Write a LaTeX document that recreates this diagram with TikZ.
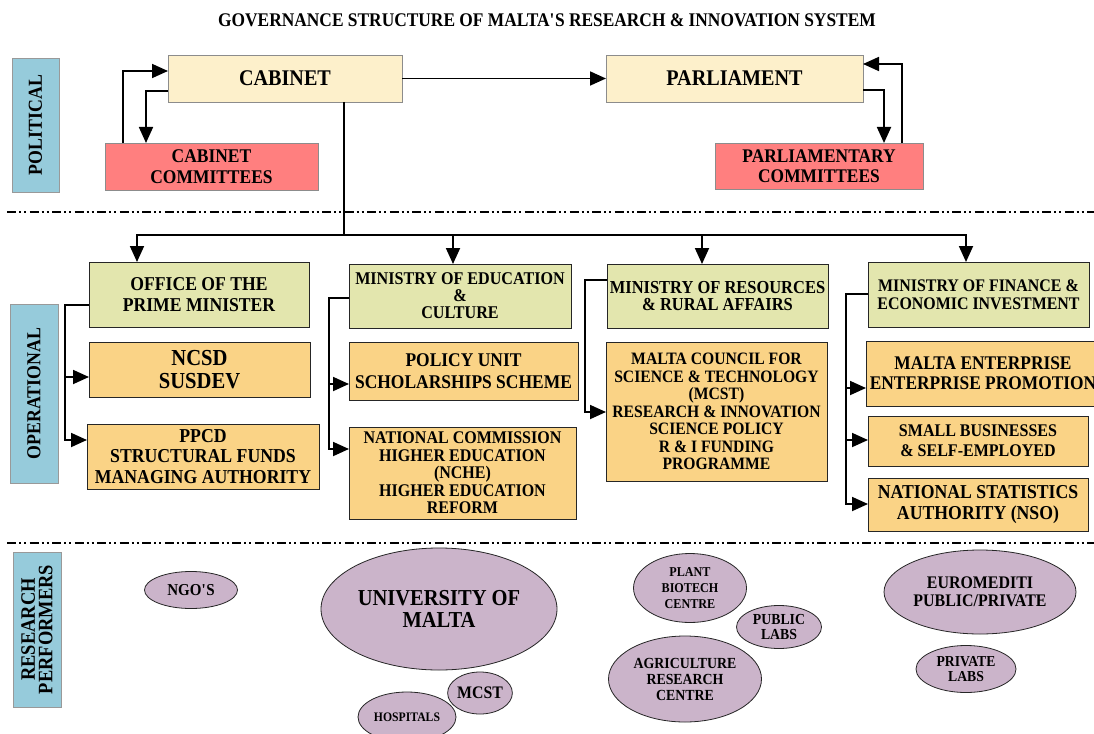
\documentclass[tikz,border=0pt]{standalone}
\usepackage{fontspec}
\setmainfont{Liberation Serif}[FakeStretch=0.9]
\usetikzlibrary{shapes.geometric,arrows.meta}
\newcommand\fz[2]{\fontsize{#1}{#2}\selectfont\bfseries}
\definecolor{bluec}{HTML}{96CBDB}
\definecolor{creamc}{HTML}{FDF0CB}
\definecolor{salmonc}{HTML}{FF7F7F}
\definecolor{greenc}{HTML}{E3E6AE}
\definecolor{orangec}{HTML}{FAD386}
\definecolor{purplec}{HTML}{CBB4CA}
\begin{document}
\begin{tikzpicture}[x=1pt,y=-1pt,
  base/.style={rectangle, inner sep=0pt, outer sep=0pt, align=center, text=black},
  polbox/.style={base, draw=black!45, line width=0.8pt, fill=creamc},
  commbox/.style={base, draw=black!45, line width=0.8pt, fill=salmonc},
  lblbox/.style={base, draw=black!40, line width=0.8pt, fill=bluec},
  minbox/.style={base, draw=black!85, line width=1pt, fill=greenc},
  unitbox/.style={base, draw=black!85, line width=1pt, fill=orangec},
  perf/.style={ellipse, inner sep=0pt, outer sep=0pt, draw=black!85, line width=0.8pt, fill=purplec, align=center},
  ln/.style={line width=1.8pt, black},
  arr/.style={ln, -{Triangle[length=16pt,width=14pt]}},
  sepline/.style={line width=2.4pt, dash pattern=on 9pt off 3pt on 2pt off 3pt on 2pt off 3.5pt}]
\useasboundingbox (0,0) rectangle (1094,733);
\fill[white] (0,0) rectangle (1094,733);

% title
\node[font=\fz{19.3}{22}] (title) at (547,20) {GOVERNANCE STRUCTURE OF MALTA\textquotesingle S RESEARCH \& INNOVATION SYSTEM};

% separators
\draw[sepline] (7,212) -- (1094,212);
\draw[sepline] (7,543) -- (1094,543);

% side labels
\node[lblbox, rotate=90, minimum width=134pt, minimum height=47pt, font=\fz{19.8}{21}] (pol) at (35.5,125) {POLITICAL};
\node[lblbox, rotate=90, minimum width=179pt, minimum height=48pt, font=\fz{19.8}{21}] (ops) at (34,393.5) {OPERATIONAL};
\node[lblbox, rotate=90, minimum width=155pt, minimum height=48pt, font=\fz{20.5}{17.5}] (rp) at (37,629.5) {RESEARCH\\PERFORMERS};

% political
\node[polbox, minimum width=234pt, minimum height=47pt, font=\fz{22.4}{24}] (cab) at (285,78.5) {CABINET};
\node[polbox, minimum width=257pt, minimum height=47pt, font=\fz{22.4}{24}] (parl) at (734.5,78.5) {PARLIAMENT};
\node[commbox, minimum width=213pt, minimum height=47pt, font=\fz{19.4}{20.5}] (cabcomm) at (211.5,166.5) {CABINET\\COMMITTEES};
\node[commbox, minimum width=208pt, minimum height=46pt, font=\fz{19.3}{20.5}] (parlcomm) at (819,166) {PARLIAMENTARY\\COMMITTEES};

\draw[arr] (cab.east) -- (parl.west);
\draw[arr] ([xshift=18pt]cabcomm.north west) |- ([yshift=-16pt]cab.north west);
\draw[arr] ([yshift=-36pt]cab.north west) -| ([xshift=41pt]cabcomm.north west);
\draw[arr] ([yshift=-35pt]parl.north east) -| ([xshift=169pt]parlcomm.north west);
\draw[arr] ([xshift=187pt]parlcomm.north west) |- ([yshift=-9pt]parl.north east);

% operational
\node[minbox, minimum width=220pt, minimum height=65pt, font=\fz{19.6}{20.7}] (opm) at (199,294.5) {OFFICE OF THE\\PRIME MINISTER};
\node[unitbox, minimum width=221pt, minimum height=55pt, font=\fz{22.9}{22.7}] (ncsd) at (199.5,369.5) {NCSD\\SUSDEV};
\node[unitbox, minimum width=232pt, minimum height=65pt, font=\fz{19.7}{20.7}] (ppcd) at (203,456.5) {PPCD\\STRUCTURAL FUNDS\\MANAGING AUTHORITY};

\node[minbox, minimum width=222pt, minimum height=64pt, font=\fz{17.9}{17}] (moe) at (460,296) {MINISTRY OF EDUCATION\\\&\\CULTURE};
\node[unitbox, minimum width=229pt, minimum height=58pt, font=\fz{19.4}{21.7}] (policy) at (463.5,371) {POLICY UNIT\\SCHOLARSHIPS SCHEME};
\node[unitbox, minimum width=227pt, minimum height=92pt, font=\fz{17.8}{17.5}] (nche) at (462.5,473) {NATIONAL COMMISSION\\HIGHER EDUCATION\\(NCHE)\\HIGHER EDUCATION\\REFORM};

\node[minbox, minimum width=221pt, minimum height=64pt, font=\fz{18.3}{17.7}] (mor) at (717.5,296) {MINISTRY OF RESOURCES\\\& RURAL AFFAIRS};
\node[unitbox, minimum width=221pt, minimum height=139pt, font=\fz{17.4}{17.5}] (mcst) at (716.5,411.5) {MALTA COUNCIL FOR\\SCIENCE \& TECHNOLOGY\\(MCST)\\RESEARCH \& INNOVATION\\SCIENCE POLICY\\R \& I FUNDING\\PROGRAMME};

\node[minbox, minimum width=221pt, minimum height=65pt, font=\fz{17.7}{17.7}] (mof) at (978.5,294.5) {MINISTRY OF FINANCE \&\\ECONOMIC INVESTMENT};
\node[unitbox, minimum width=234pt, minimum height=65pt, font=\fz{19.3}{20}] (me) at (983,373.5) {MALTA ENTERPRISE\\ENTERPRISE PROMOTION};
\node[unitbox, minimum width=220pt, minimum height=50pt, font=\fz{17.8}{20}] (sb) at (978,441) {SMALL BUSINESSES\\\& SELF-EMPLOYED};
\node[unitbox, minimum width=220pt, minimum height=53pt, font=\fz{19.7}{21}] (nso) at (978,504.5) {NATIONAL STATISTICS\\AUTHORITY (NSO)};

% cabinet to ministries
\coordinate (j) at (344,235);
\draw[ln] ([xshift=176pt]cab.south west) -- (j);
\draw[arr] (j) -| ([xshift=48pt]opm.north west);
\draw[arr] (j) -| ([xshift=104pt]moe.north west);
\draw[arr] (j) -| ([xshift=95pt]mor.north west);
\draw[arr] (j) -| ([xshift=98pt]mof.north west);

% ministries to units
\draw[arr] ([yshift=-43pt]opm.north west) -- ++(-24,0) |- ([yshift=-35pt]ncsd.north west);
\draw[arr] ([yshift=-43pt]opm.north west) -- ++(-24,0) |- ([yshift=-16pt]ppcd.north west);
\draw[arr] ([yshift=-34pt]moe.north west) -- ++(-20,0) |- ([yshift=-42pt]policy.north west);
\draw[arr] ([yshift=-34pt]moe.north west) -- ++(-20,0) |- ([yshift=-22pt]nche.north west);
\draw[arr] ([yshift=-16pt]mor.north west) -- ++(-22,0) |- ([yshift=-70pt]mcst.north west);
\draw[arr] ([yshift=-32pt]mof.north west) -- ++(-22,0) |- ([yshift=-47pt]me.north west);
\draw[arr] ([yshift=-32pt]mof.north west) -- ++(-22,0) |- ([yshift=-24pt]sb.north west);
\draw[arr] ([yshift=-32pt]mof.north west) -- ++(-22,0) |- ([yshift=-26pt]nso.north west);

% research performers
\node[perf, minimum width=93pt, minimum height=37pt, font=\fz{16.7}{18}] (ngo) at (191,590) {NGO\textquotesingle S};
\node[perf, minimum width=236pt, minimum height=122pt, font=\fz{22.8}{21.7}] (uom) at (439,609) {UNIVERSITY OF\\MALTA};
\node[perf, minimum width=98pt, minimum height=50pt, font=\fz{13}{14}] (hosp) at (407,717) {HOSPITALS};
\node[perf, minimum width=58pt, minimum height=42pt, font=\fz{17.6}{18}] (mcste) at (480,693) {MCST};
\node[perf, minimum width=113pt, minimum height=69pt, font=\fz{13.5}{16.3}] (plant) at (690,588) {PLANT\\BIOTECH\\CENTRE};
\node[perf, minimum width=153pt, minimum height=86pt, font=\fz{15.4}{16}] (agri) at (685,679) {AGRICULTURE\\RESEARCH\\CENTRE};
\node[perf, minimum width=85pt, minimum height=43pt, font=\fz{15.3}{15.7}] (publ) at (779,627) {PUBLIC\\LABS};
\node[perf, minimum width=192pt, minimum height=84pt, font=\fz{17.7}{17.7}] (euro) at (980,592) {EUROMEDITI\\PUBLIC/PRIVATE};
\node[perf, minimum width=100pt, minimum height=47pt, font=\fz{15.2}{15}] (priv) at (966,669) {PRIVATE\\LABS};
\end{tikzpicture}
\end{document}
